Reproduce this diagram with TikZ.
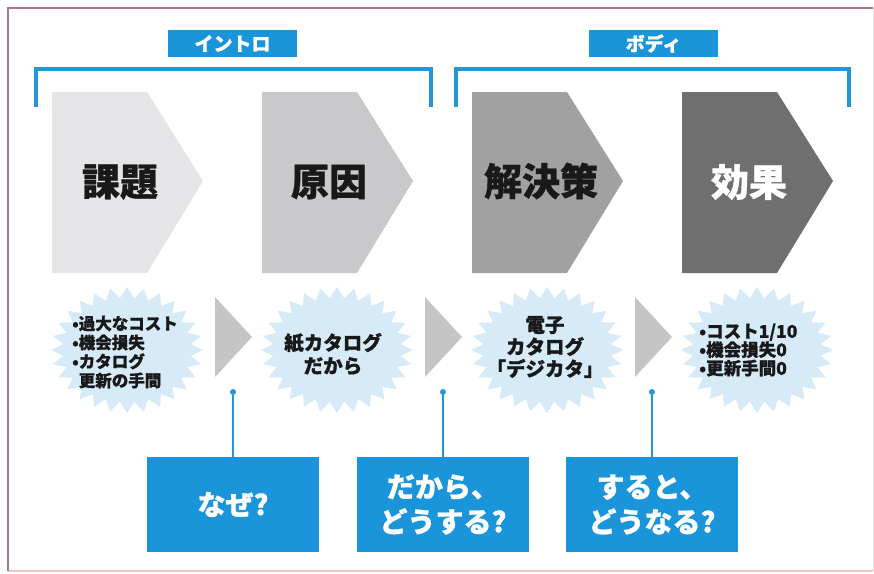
\documentclass[tikz,border=0pt]{standalone}
\usepackage{fontspec}
\setmainfont{Noto Sans CJK JP}[BoldFeatures={FakeBold=0.8}]
\definecolor{myblue}{HTML}{1B95D9}
\definecolor{brblue}{HTML}{2596D4}
\definecolor{burstc}{HTML}{D6EAF8}
\definecolor{chA}{HTML}{E5E5E7}
\definecolor{chB}{HTML}{C9C9CB}
\definecolor{chC}{HTML}{A1A1A1}
\definecolor{chD}{HTML}{6F6F6F}
\definecolor{trig}{HTML}{C5C5C5}
\definecolor{framec}{HTML}{A8788A}
\definecolor{framebot}{HTML}{F2C8C0}
\newcommand{\mychev}[2]{\fill[#2] (#1,92) -- ++(95,0) -- ++(56,89) -- ++(-56,92) -- ++(-95,0) -- cycle;}
\newcommand{\myburst}[2]{\fill[burstc, shift={(#1,#2)}] (0:76pt and 63pt) \foreach \k in {0,...,27} { -- ({\k*360/28}:76pt and 63pt) -- ({\k*360/28+360/56}:64pt and 52pt)} -- cycle;}
\newcommand{\mytri}[1]{\fill[trig] (#1,297) -- ++(37,40) -- ++(-37,40) -- cycle;}
\tikzset{
  tag/.style={fill=myblue, text=white, minimum width=129pt, minimum height=27pt, inner sep=0pt, font=\fontsize{19}{22}\selectfont\bfseries},
  bracket/.style={draw=brblue, line width=4pt},
  head/.style={font=\fontsize{38}{40}\selectfont\bfseries, text=black!90, inner sep=0pt},
  qbox/.style={fill=myblue, text=white, minimum width=172pt, minimum height=95pt, inner sep=0pt, align=center, font=\fontsize{28}{35}\selectfont\bfseries},
  btext/.style={inner sep=0pt, text=black!90},
  dotc/.style={circle, fill=brblue, inner sep=0pt, minimum size=6pt},
  link/.style={draw=brblue, line width=1.6pt}
}
\begin{document}
\begin{tikzpicture}[x=1pt, y=-1pt]
\useasboundingbox (0,0) rectangle (874,573);
\fill[white] (0,0) rectangle (874,573);
% frame
\draw[framebot, line width=1.5pt] (8,571) -- (873,571);
\draw[black!12, line width=1pt] (873,8) -- (873,571);
\draw[framec, line width=1.5pt] (8,571) -- (8,8) -- (873,8);
% labels and brackets
\node[tag] (intro) at (232.5,43.5) {イントロ};
\node[tag] (body) at (653.5,43.5) {ボディ};
\draw[bracket] (36,107) -- (36,69) -- (431,69) -- (431,107);
\draw[bracket] (456,107) -- (456,69) -- (849,69) -- (849,107);
% chevrons
\mychev{52}{chA}
\mychev{262}{chB}
\mychev{472}{chC}
\mychev{682}{chD}
\node[head] (h1) at (120,182) {課題};
\node[head] (h2) at (329,182) {原因};
\node[head] (h3) at (541,181) {解決策};
\node[head, text=white] (h4) at (749,182) {効果};
% bursts
\myburst{127}{350}
\myburst{337}{350}
\myburst{547}{350}
\myburst{757}{350}
\mytri{215}
\mytri{425}
\mytri{635}
\node[btext, anchor=west, align=left, font=\fontsize{16.5}{19}\selectfont\bfseries] (t1) at (72,352) {•過大なコスト\\•機会損失\\•カタログ\\\phantom{•}更新の手間};
\node[btext, align=center, font=\fontsize{19.5}{23}\selectfont\bfseries] (t2) at (333,354) {紙カタログ\\だから};
\node[btext, align=center, font=\fontsize{19.5}{22}\selectfont\bfseries] (t3) at (545,347) {電子\\カタログ\\「デジカタ」};
\node[btext, anchor=west, align=left, font=\fontsize{17.5}{18.5}\selectfont\bfseries] (t4) at (699,350) {•コスト1/10\\•機会損失0\\•更新手間0};
% question boxes
\node[qbox] (q1) at (233,504.5) {なぜ?};
\node[qbox] (q2) at (443,504.5) {だから、\\どうする?};
\node[qbox] (q3) at (652,504.5) {すると、\\どうなる?};
\node[dotc] (d1) at (233,392) {};
\node[dotc] (d2) at (443,392) {};
\node[dotc] (d3) at (652,392) {};
\draw[link] (d1) -- (q1.north);
\draw[link] (d2) -- (q2.north);
\draw[link] (d3) -- (q3.north);
\end{tikzpicture}
\end{document}
